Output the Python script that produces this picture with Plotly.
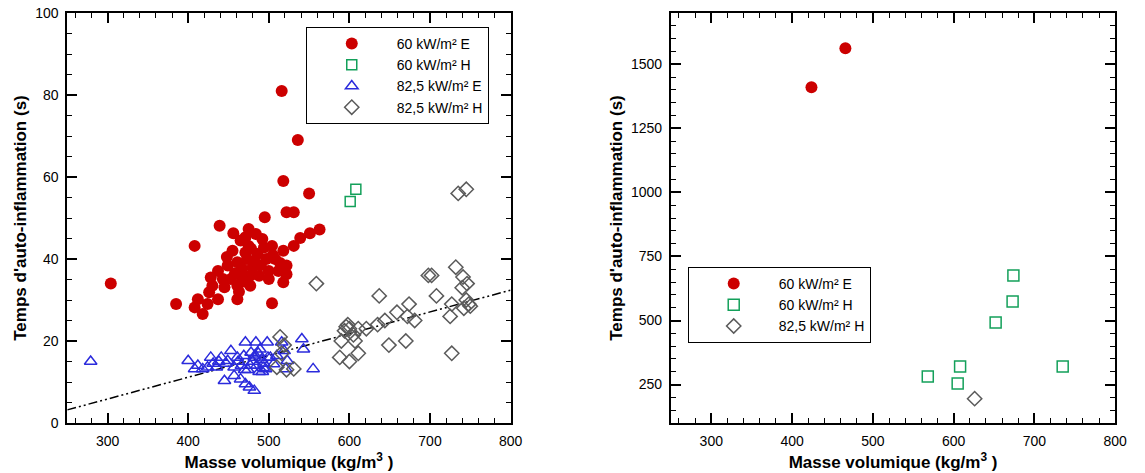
import plotly.graph_objects as go

# ---------------- data: left panel ----------------
e60_x = [304, 516, 536, 518, 550, 385,
         522, 531, 495, 439, 563, 551, 539, 531, 456, 475, 484, 408, 465, 492,
         504, 518, 455, 471, 494, 486, 508, 522, 449, 461, 473, 480, 500, 512,
         522, 437, 428, 443, 453, 465, 477, 488, 500, 518, 430, 445, 461, 477,
         461, 426, 437, 412, 424, 504, 408, 418, 467, 475, 471, 458, 482, 490,
         470, 448, 505, 514, 463, 478, 497]
e60_y = [34, 81, 69, 59, 56, 29,
         51.4, 51.4, 50.2, 48.1, 47.2, 46.3, 45.1, 43.2, 46.3, 47.3, 46.1, 43.2, 44.5, 44.9,
         43.2, 42, 42, 41.6, 42.8, 41.2, 40, 38.4, 38.4, 39.2, 40, 38, 37.1, 37.1,
         36.3, 37.1, 35.5, 35.1, 35.1, 35.9, 35.9, 35.9, 35.1, 34.3, 33.5, 33.1, 33.5, 33.5,
         30.2, 31.9, 30.2, 30.2, 29, 29.2, 28.2, 26.6, 37.6, 43.2, 45.3, 36.5, 39.5, 38.5,
         34.5, 40.5, 41, 39, 32, 42.5, 40]

h60_x = [601, 608]
h60_y = [54, 57]

e82_x = [279, 400, 412, 408, 418, 428, 424, 435, 441, 453, 449, 461, 457, 471, 484, 498, 469, 478,
         482, 487, 491, 494, 485, 480, 489, 493, 477, 483,
         445, 457, 465, 471, 476, 482, 496, 510, 519, 516, 523, 521, 541, 543, 555, 502, 506,
         466, 470, 447, 431, 438, 462, 474, 488, 492, 499]
e82_y = [15, 15.2, 14, 13.2, 13.2, 16, 13.6, 13.6, 16, 17.6, 15.2, 16, 13.6, 19.7, 19.7, 19.7, 16.4, 17.2,
         16, 17, 15.5, 14.5, 14, 15, 18, 13.5, 14, 16.5,
         10.3, 11.5, 10.7, 9.5, 8.7, 7.9, 13.2, 16.4, 17.6, 19.7, 15.2, 13.2, 20.5, 18, 13.2, 16, 14.4,
         14, 13, 14.5, 14.5, 15, 15, 13, 12.5, 12.5, 16]

h82_x = [735, 745, 732, 698, 702, 741, 746, 740, 637, 708, 674, 659, 644, 635, 681, 672, 725, 727, 742, 748,
         745, 750, 596, 598, 594, 600, 611, 621, 590, 607, 649, 670, 727, 611, 588, 559, 514, 519, 516, 510,
         531, 522, 600, 605]
h82_y = [56, 57, 38, 36, 36, 35.6, 34, 33, 31, 31, 29, 27, 25, 24, 25, 26, 26, 29, 28, 29,
         30, 28.5, 23.5, 24, 22.5, 23, 23, 23, 20, 20, 19, 20, 17, 17, 16, 34, 21, 19, 17, 13.6,
         13.2, 13, 15, 21.5]

fit_x = [250, 800]
fit_y = [3.2, 32.4]

# ---------------- data: right panel ----------------
r_e60_x = [424, 466]
r_e60_y = [1410, 1562]
r_h60_x = [568, 605, 608, 652, 673, 674, 735]
r_h60_y = [281, 254, 320, 492, 574, 676, 320]
r_h82_x = [626]
r_h82_y = [195]

names = ["60 kW/m² E", "60 kW/m² H", "82,5 kW/m² E", "82,5 kW/m² H"]

RED = "#cc0000"
GREEN = "#13a05a"
BLUE = "#2b2bdc"
GREY = "#5a5a5a"

fig = go.Figure()

def mk(x, y, name, sym, color, size, xa, ya, legend, filled=False):
    if filled:
        marker = dict(symbol=sym, size=size, color=color, line=dict(width=0))
    else:
        marker = dict(symbol=sym, size=size, color=color, line=dict(color=color, width=1.5))
    return go.Scatter(x=x, y=y, mode="markers", name=name, marker=marker,
                      xaxis=xa, yaxis=ya, legend=legend)

# fit line (under markers)
fig.add_trace(go.Scatter(x=fit_x, y=fit_y, mode="lines", showlegend=False,
                         line=dict(color="black", width=1.5, dash="9px,3px,2px,3px,2px,3px"),
                         xaxis="x", yaxis="y"))

fig.add_trace(mk(e60_x, e60_y, names[0], "circle", RED, 12, "x", "y", "legend", filled=True))
fig.add_trace(mk(h60_x, h60_y, names[1], "square-open", GREEN, 10, "x", "y", "legend"))
fig.add_trace(mk(e82_x, e82_y, names[2], "triangle-up-open", BLUE, 11, "x", "y", "legend"))
fig.add_trace(mk(h82_x, h82_y, names[3], "diamond-open", GREY, 11, "x", "y", "legend"))

fig.add_trace(mk(r_e60_x, r_e60_y, names[0], "circle", RED, 12, "x2", "y2", "legend2", filled=True))
fig.add_trace(mk(r_h60_x, r_h60_y, names[1], "square-open", GREEN, 11, "x2", "y2", "legend2"))
fig.add_trace(mk(r_h82_x, r_h82_y, names[3], "diamond-open", GREY, 11, "x2", "y2", "legend2"))

W, H = 1145, 473
FONT = "Arial, Liberation Sans, sans-serif"

axis_common = dict(showline=True, linecolor="black", linewidth=2, mirror="ticks",
                   ticks="inside", ticklen=10, tickwidth=2, tickcolor="black",
                   showgrid=False, zeroline=False, ticklabelstandoff=4,
                   tickfont=dict(family=FONT, size=14, color="black"))

xtitle = dict(text="<b>Masse volumique (kg/m<sup>3</sup> )</b>", font=dict(family=FONT, size=17, color="black"), standoff=8)
ytitle = dict(text="<b>Temps d'auto-inflammation (s)</b>", font=dict(family=FONT, size=17, color="black"), standoff=4)

leg_common = dict(xanchor="left", yanchor="top", bordercolor="black", borderwidth=1, bgcolor="white",
                  font=dict(family=FONT, size=14, color="black"), itemwidth=80, tracegroupgap=0)

fig.update_layout(
    width=W, height=H,
    paper_bgcolor="white", plot_bgcolor="white",
    margin=dict(l=0, r=0, t=13, b=50),
    font=dict(family=FONT, color="black"),
    xaxis=dict(domain=[68 / W, 516 / W], range=[250, 800], tick0=300, dtick=100,
               minor=dict(ticks="inside", ticklen=5, dtick=20, tick0=300, tickcolor="black", tickwidth=1),
               title=xtitle, anchor="y", **axis_common),
    yaxis=dict(domain=[0, 1], range=[0, 100], tick0=0, dtick=20,
               minor=dict(ticks="inside", ticklen=5, dtick=5, tick0=0, tickcolor="black", tickwidth=1),
               title=ytitle, anchor="x", **axis_common),
    xaxis2=dict(domain=[678 / W, 1127 / W], range=[250, 800], tick0=300, dtick=100,
                minor=dict(ticks="inside", ticklen=5, dtick=20, tick0=300, tickcolor="black", tickwidth=1),
                title=xtitle, anchor="y2", **axis_common),
    yaxis2=dict(domain=[0, 1], range=[100, 1700], tick0=250, dtick=250,
                minor=dict(ticks="inside", ticklen=5, dtick=50, tick0=0, tickcolor="black", tickwidth=1),
                title=ytitle, anchor="x2", **axis_common),
    legend=dict(x=309 / W, y=1 - (27 - 13) / (H - 63), **leg_common),
    legend2=dict(x=695 / W, y=1 - (267 - 13) / (H - 63), **leg_common),
)

fig.write_html("out.html", post_script="document.body.style.margin='0';",
               config={"displayModeBar": False})
